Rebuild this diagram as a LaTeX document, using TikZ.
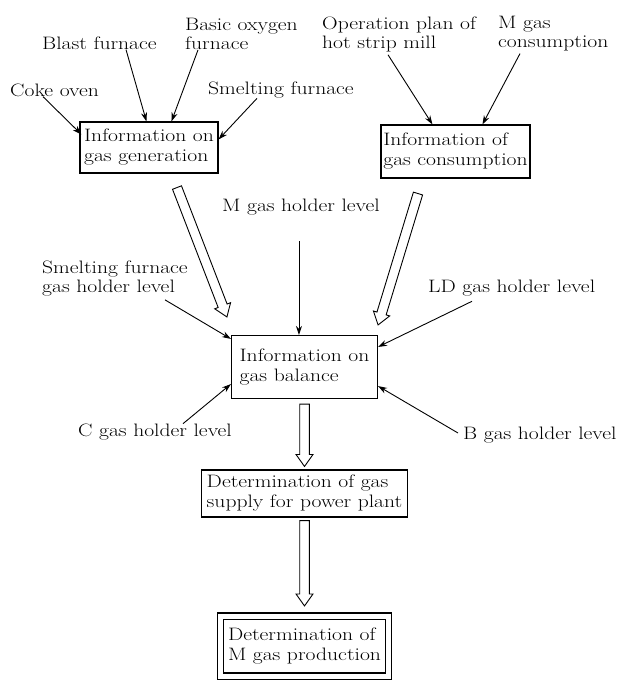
\documentclass[tikz,border=0pt]{standalone}
\usepackage{fontspec}
\setmainfont{Latin Modern Roman}[FakeStretch=1.2]
\usetikzlibrary{arrows.meta,calc}
\newcommand{\hollowarrow}[3]{%
  \coordinate (#1t) at #2;
  \coordinate (#1h) at #3;
  \coordinate (#1n) at ($(#1h)!12pt!(#1t)$);
  \draw[hollow] ($(#1t)!4.8pt!90:(#1h)$) -- ($(#1n)!4.8pt!90:(#1h)$) -- ($(#1n)!8.5pt!90:(#1h)$)
    -- (#1h) -- ($(#1n)!8.5pt!-90:(#1h)$) -- ($(#1n)!4.8pt!-90:(#1h)$) -- ($(#1t)!4.8pt!-90:(#1h)$) -- cycle;}
\begin{document}
\begin{tikzpicture}[x=1pt,y=-1pt,
  font=\fontsize{18}{19}\selectfont,
  lab/.style={inner sep=0pt, align=left},
  box/.style={draw, line width=1.1pt, inner sep=0pt, align=left, font=\fontsize{18}{20}\selectfont},
  thin/.style={line width=0.9pt, -{Stealth[length=9pt,width=6pt]}},
  hollow/.style={draw, line width=0.9pt, fill=white, line join=miter}]
\useasboundingbox (0,0) rectangle (620,680);

% boxes
\node[box, minimum width=138pt, minimum height=51pt] (gen) at (149,147.5) {Information on\\gas generation};
\node[box, minimum width=149pt, minimum height=53pt] (cons) at (455.5,151.5) {Information of\\gas consumption};
\node[box, minimum width=146pt, minimum height=63pt] (bal) at (304.5,367) {Information on\\gas balance};
\node[box, minimum width=206pt, minimum height=47pt] (sup) at (304.5,493.5) {Determination of gas\\supply for power plant};
\node[box, double, double distance=5pt, minimum width=167.5pt, minimum height=60pt] (prod) at (304.5,646) {Determination of\\M gas production};

% labels
\node[lab, anchor=west] (blast) at (42,43) {Blast furnace};
\node[lab, anchor=west] (bof) at (185,34) {Basic oxygen\\furnace};
\node[lab, anchor=west] (coke) at (10,90) {Coke oven};
\node[lab, anchor=west] (smelt) at (208,90) {Smelting furnace};
\node[lab, anchor=west] (hsm) at (322,34) {Operation plan of\\hot strip mill};
\node[lab, anchor=west] (mcons) at (498,34) {M gas\\consumption};
\node[lab, anchor=west] (mlev) at (222,207) {M gas holder level};
\node[lab, anchor=west] (slev) at (42,279) {Smelting furnace\\gas holder level};
\node[lab, anchor=west] (ldlev) at (428,288) {LD gas holder level};
\node[lab, anchor=west] (clev) at (78,432) {C gas holder level};
\node[lab, anchor=west] (blev) at (463,435) {B gas holder level};

% thin arrows
\draw[thin] ([shift={(33,0)}]coke.south west) -- ([shift={(2,13)}]gen.north west);
\draw[thin] ([shift={(84,0)}]blast.south west) -- ([shift={(67,0)}]gen.north west);
\draw[thin] ([shift={(13,0)}]bof.south west) -- ([shift={(92,0)}]gen.north west);
\draw[thin] ([shift={(49,0)}]smelt.south west) -- ([shift={(0,18)}]gen.north east);
\draw[thin] ([shift={(66,3)}]hsm.south west) -- ([shift={(52,0)}]cons.north west);
\draw[thin] ([shift={(22,2)}]mcons.south west) -- ([shift={(102,0)}]cons.north west);
\coordinate (mtip) at ([shift={(68,0)}]bal.north west);
\draw[thin] ($(mtip |- mlev.south)+(0,26)$) -- (mtip);
\draw[thin] ([shift={(123,3)}]slev.south west) -- ([shift={(0,4)}]bal.north west);
\draw[thin] ([shift={(44,5)}]ldlev.south west) -- ([shift={(0,12)}]bal.north east);
\draw[thin] ([shift={(105,0)}]clev.north west) -- ([shift={(0,-15)}]bal.south west);
\draw[thin] ([shift={(-5,-2)}]blev.west) -- ([shift={(0,-13)}]bal.south east);

% hollow arrows
\hollowarrow{ha}{([shift={(28,14)}]gen.south)}{([shift={(-4,-18)}]bal.north west)}
\hollowarrow{hb}{([shift={(-37.5,15)}]cons.south)}{([shift={(0,-10)}]bal.north east)}
\hollowarrow{hc}{([shift={(0,5)}]bal.south)}{([shift={(0,-3)}]sup.north)}
\hollowarrow{hd}{([shift={(0,3)}]sup.south)}{([shift={(0,-9.5)}]prod.north)}
\end{tikzpicture}
\end{document}
